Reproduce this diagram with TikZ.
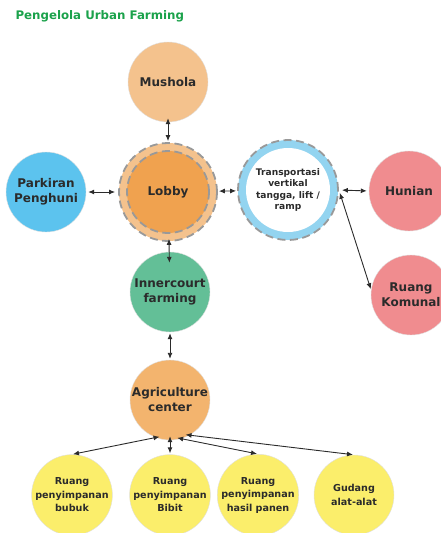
\documentclass[tikz,border=0pt]{standalone}
\usepackage{fontspec}
\setmainfont{DejaVu Sans}
\usepackage{xcolor}
\usepackage{tikz}
\usetikzlibrary{arrows.meta}
\definecolor{ink}{HTML}{2B2B2B}
\definecolor{titlegreen}{HTML}{1BA24B}
\definecolor{peach}{HTML}{F4C28D}
\definecolor{lobbyorange}{HTML}{F0A24F}
\definecolor{skyblue}{HTML}{5CC3EE}
\definecolor{ringblue}{HTML}{93D4F0}
\definecolor{rose}{HTML}{F08C8F}
\definecolor{mint}{HTML}{63BF97}
\definecolor{apricot}{HTML}{F3B46E}
\definecolor{lemon}{HTML}{FBEE6B}

\begin{document}
\begin{tikzpicture}[x=1pt, y=-1pt,
    every node/.style={font=\bfseries\fontsize{12}{15}\selectfont, text=ink, align=center},
    room/.style={circle, minimum size=80pt, inner sep=0pt, draw=black!12, line width=0.4pt},
    store/.style={room, fill=lemon, font=\bfseries\fontsize{9.6}{13.5}\selectfont},
    dashring/.style={draw=black!40, line width=1.8pt, dash pattern=on 8pt off 4.5pt},
    link/.style={{Latex[length=6pt,width=5pt]}-{Latex[length=6pt,width=5pt]}, ink, line width=0.9pt, shorten <=1pt, shorten >=1pt}]
    \useasboundingbox (0,0) rectangle (441,533);
    \node[anchor=base west, text=titlegreen, font=\bfseries\fontsize{11.8}{14}\selectfont] (title) at (12,19) {Pengelola Urban Farming};

    \node[room, fill=peach] (mushola) at (168,82) {Mushola};
    \node[room, minimum size=98pt, fill=peach, dashring] (lobbyring) at (168,192) {};
    \node[room, minimum size=82pt, fill=lobbyorange, dashring] (lobby) at (168,192) {Lobby};
    \node[room, fill=skyblue] (parkir) at (46,192) {Parkiran\\Penghuni};
    \node[room, minimum size=100pt, fill=ringblue, dashring] (transp) at (288,190) {};
    \node[room, minimum size=84pt, fill=white, draw=none, font=\bfseries\fontsize{9.1}{11.5}\selectfont] (transptext) at (288,190) {Transportasi\\vertikal\\tangga, lift /\\ramp};
    \node[room, fill=rose] (hunian) at (409,191) {Hunian};
    \node[room, fill=rose] (komunal) at (411,295) {Ruang\\Komunal};
    \node[room, fill=mint] (inner) at (170,292) {Innercourt\\farming};
    \node[room, fill=apricot] (agri) at (170,400) {Agriculture\\center};
    \node[store] (bubuk) at (72,495) {Ruang\\penyimpanan\\bubuk};
    \node[store] (bibit) at (170,495) {Ruang\\penyimpanan\\Bibit};
    \node[store] (panen) at (258,495) {Ruang\\penyimpanan\\hasil panen};
    \node[store] (gudang) at (354,495) {Gudang\\alat-alat};

    \draw[link, shorten <=-4pt] (mushola) -- (lobbyring);
    \draw[link, shorten <=2pt, shorten >=3pt] (parkir) -- (lobbyring);
    \draw[link] (lobbyring) -- (transp);
    \draw[link, shorten <=-3pt, shorten >=-11pt] (lobbyring) -- (inner);
    \draw[link] (inner) -- (agri);
    \draw[link, shorten <=3pt, shorten >=2pt] (transp.east) -- (hunian.west);
    \draw[link, shorten <=3pt] (transp.east) -- (komunal.173);
    \draw[link, shorten <=-4pt] (agri.-111) -- (bubuk.north);
    \draw[link, shorten <=-4pt] (agri.south) -- (bibit.north);
    \draw[link, shorten <=-4pt] (agri.-74) -- (panen.north);
    \draw[link, shorten <=-4pt] (agri.-61) -- (gudang.north);
\end{tikzpicture}
\end{document}
